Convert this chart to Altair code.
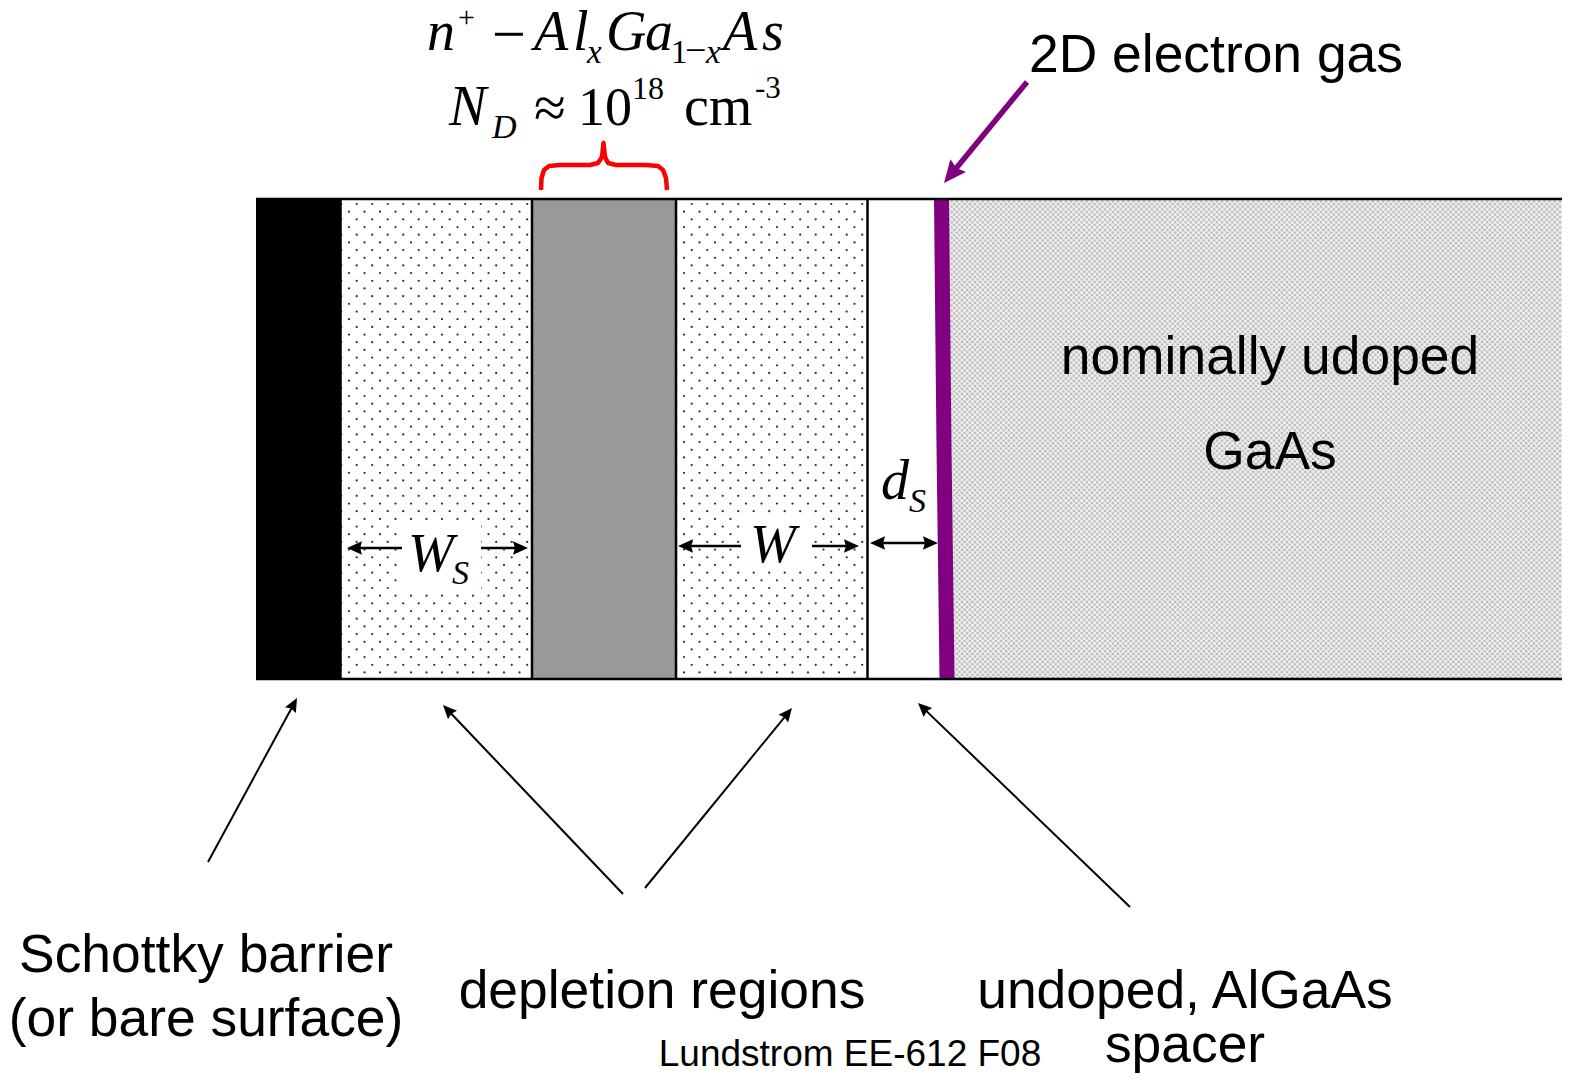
import math
import altair as alt
import pandas as pd

# layers of the device: left, right, fill
BAND_L = [256, 340.5, 532, 676, 867.5, 946]
BAND_R = [340.5, 532, 676, 867.5, 946, 1600]
BAND_FILL = ["#000000", "#ffffff", "#999999", "#ffffff", "#ffffff", "#ededed"]
BAND_TOP, BAND_BOTTOM = 199, 679
DIVIDERS = [340.5, 532, 676, 867.5]

# sans labels
SANS_TEXT = ["2D electron gas", "nominally udoped", "GaAs", "Schottky barrier", "(or bare surface)",
             "depletion regions", "undoped, AlGaAs", "spacer"]
SANS_X = [1216, 1270, 1270, 206, 206, 662, 1185, 1185]
SANS_Y = [72, 374, 469, 972, 1036, 1008, 1008, 1062]
FOOT = ["Lundstrom EE-612 F08"]

# formula pieces: text, x, baseline, size
ITALIC = [("n", 427, 50, 56), ("A", 534, 50, 56), ("l", 573, 50, 56), ("x", 587, 63, 33), ("G", 606, 50, 56),
          ("a", 645, 50, 56), ("x", 706, 63, 33), ("A", 723, 50, 56), ("s", 762, 50, 56),
          ("N", 449, 125, 56), ("D", 492, 138, 34), ("W", 408, 571, 55), ("S", 452, 584, 34),
          ("W", 750, 562, 55), ("d", 881, 499, 56), ("S", 909, 512, 34)]
ROMAN = [("+", 458, 27, 30), ("\u2212", 492, 54, 60), ("1", 671, 63, 33), ("\u2212", 685, 63, 38),
         ("\u2248", 534, 127, 58), ("10", 578, 125, 54), ("18", 632, 99, 32), ("cm", 684, 125, 56), ("-3", 755, 98, 31)]

# arrows: tail x, tail y, tip x, tip y, line width, head size, colour
ARROWS = [(1027, 82, 944, 183, 5.5, 500, "#800080"),
          (208, 862, 297, 698, 2, 190, "#000000"),
          (623, 894, 443, 705, 2, 190, "#000000"),
          (645, 888, 792, 708, 2, 190, "#000000"),
          (1130, 907, 918, 703, 2, 190, "#000000"),
          (402, 548, 347, 548, 2.5, 225, "#000000"),
          (481, 548, 528, 548, 2.5, 225, "#000000"),
          (741, 546, 678, 546, 2.5, 225, "#000000"),
          (812, 546, 859, 546, 2.5, 225, "#000000"),
          (900, 543, 870, 543, 2.5, 225, "#000000"),
          (900, 543, 938, 543, 2.5, 225, "#000000")]

# white patches behind the symbols
PATCH = [(402, 481, 520, 592), (742, 812, 515, 567)]

# the purple sheet and the red brace
SHEET_X = [941.5, 944, 947]
SHEET_Y = [199, 447, 678]
BRACE_X = [541, 541.5, 544, 549, 560, 590, 598, 602, 603.5, 605, 608, 616, 646, 658, 663, 666, 667]
BRACE_Y = [190, 178, 170, 166, 165, 165, 163, 157, 143, 157, 163, 165, 165, 166, 170, 178, 190]

xs = alt.Scale(domain=[8, 1562], range=[0, 1554], nice=False, zero=False)
ys = alt.Scale(domain=[1074, 8], nice=False, zero=False)
X = alt.X("x:Q", scale=xs, axis=None)
Y = alt.Y("y:Q", scale=ys, axis=None)
X2 = alt.X2("x2:Q")
Y2 = alt.Y2("y2:Q")

bands = pd.DataFrame({"x": BAND_L, "x2": BAND_R, "y": BAND_TOP, "y2": BAND_BOTTOM, "f": BAND_FILL})
band_layer = alt.Chart(bands).mark_rect(clip=True).encode(X, X2, Y, Y2, fill=alt.Fill("f:N", scale=None))

# stipple textures
dots = []
for lo, hi in ((340, 531), (675, 866)):
    row = 0
    yy = 204.0
    while yy < 678:
        xx = lo + (9.0 if row % 2 else 1.2)
        while xx < hi - 1:
            dots.append((xx, yy))
            xx += 15.5
        yy += 7.68
        row += 1
dot_layer = alt.Chart(pd.DataFrame(dots, columns=["x", "y"])).mark_circle(
    size=5, color="#303030", opacity=1).encode(X, Y)

fine = []
row = 0
yy = 201.5
while yy < 678:
    xx = 949 + (0 if row % 2 else 2.6)
    while xx < 1562:
        fine.append((round(xx, 1), round(yy, 1)))
        xx += 5.2
    yy += 2.6
    row += 1
fine_layer = alt.Chart(pd.DataFrame(fine, columns=["x", "y"])).mark_square(
    size=5, color="#bbbbbb", opacity=1).encode(X, Y)

patch = pd.DataFrame(PATCH, columns=["x", "x2", "y", "y2"])
patch_layer = alt.Chart(patch).mark_rect(color="#ffffff").encode(X, X2, Y, Y2)

h_lines = pd.DataFrame({"x": [256, 256], "x2": [1562, 1562], "y": [BAND_TOP, BAND_BOTTOM]})
h_layer = alt.Chart(h_lines).mark_rule(color="#000000", strokeWidth=2.5).encode(X, X2, Y)
v_lines = pd.DataFrame({"x": DIVIDERS, "y": BAND_TOP, "y2": BAND_BOTTOM})
v_layer = alt.Chart(v_lines).mark_rule(color="#000000", strokeWidth=2.5).encode(X, Y, Y2)

sheet = alt.Chart(pd.DataFrame({"x": SHEET_X, "y": SHEET_Y})).mark_line(
    color="#800080", strokeWidth=15, strokeCap="butt").encode(X, Y, order=alt.Order("y:Q"))

brace = alt.Chart(pd.DataFrame({"x": BRACE_X, "y": BRACE_Y, "o": list(range(len(BRACE_X)))})).mark_line(
    color="#ff0000", strokeWidth=4.5, strokeJoin="round").encode(X, Y, order=alt.Order("o:Q"))

arrow = pd.DataFrame(ARROWS, columns=["x", "y", "x2", "y2", "w", "s", "c"])
# stop the shaft just behind the head
arrow["len"] = ((arrow.x2 - arrow.x) ** 2 + (arrow.y2 - arrow.y) ** 2) ** 0.5
arrow["bx"] = arrow.x2 - (arrow.x2 - arrow.x) / arrow.len * (arrow.s ** 0.5) * 0.8
arrow["by"] = arrow.y2 - (arrow.y2 - arrow.y) / arrow.len * (arrow.s ** 0.5) * 0.8
arrow["ang"] = [math.degrees(math.atan2(a, -b)) % 360 for a, b in zip(arrow.x2 - arrow.x, arrow.y2 - arrow.y)]
# head centre sits half a head behind the tip
arrow["hx"] = arrow.x2 - (arrow.x2 - arrow.x) / arrow.len * (arrow.s ** 0.5) * 0.5
arrow["hy"] = arrow.y2 - (arrow.y2 - arrow.y) / arrow.len * (arrow.s ** 0.5) * 0.5

shafts = alt.Chart(arrow).mark_rule(strokeCap="butt").encode(
    X, Y, alt.X2("bx:Q"), alt.Y2("by:Q"),
    color=alt.Color("c:N", scale=None),
    strokeWidth=alt.StrokeWidth("w:Q", scale=None))
heads = alt.Chart(arrow).mark_point(
    shape="M0,-1L0.9,1L0,0.75L-0.9,1Z", filled=True, opacity=1).encode(
    alt.X("hx:Q", scale=xs, axis=None), alt.Y("hy:Q", scale=ys, axis=None),
    color=alt.Color("c:N", scale=None),
    size=alt.Size("s:Q", scale=None),
    angle=alt.Angle("ang:Q", scale=None))


def text_layer(rows, **kw):
    df = pd.DataFrame(rows, columns=["t", "x", "y", "s"])
    return alt.Chart(df).mark_text(baseline="alphabetic", color="#000000", **kw).encode(
        X, Y, text="t:N", size=alt.Size("s:Q", scale=None))


italic = text_layer(ITALIC, font="Liberation Serif", fontStyle="italic", align="left")
roman = text_layer(ROMAN, font="Liberation Serif", align="left")
sans = text_layer([(t, x, y, 53.4) for t, x, y in zip(SANS_TEXT, SANS_X, SANS_Y)],
                  font="Liberation Sans", align="center")
foot = text_layer([(FOOT[0], 850, 1066, 37)], font="Liberation Sans", align="center")

chart = alt.layer(band_layer, fine_layer, dot_layer, patch_layer, sheet, h_layer, v_layer, brace,
                  shafts, heads, italic, roman, sans, foot).properties(
    width=1554, height=1066, padding=0, autosize="none"
).configure_view(stroke=None)

chart.save("out.html", embed_options={"renderer": "svg", "actions": False})
